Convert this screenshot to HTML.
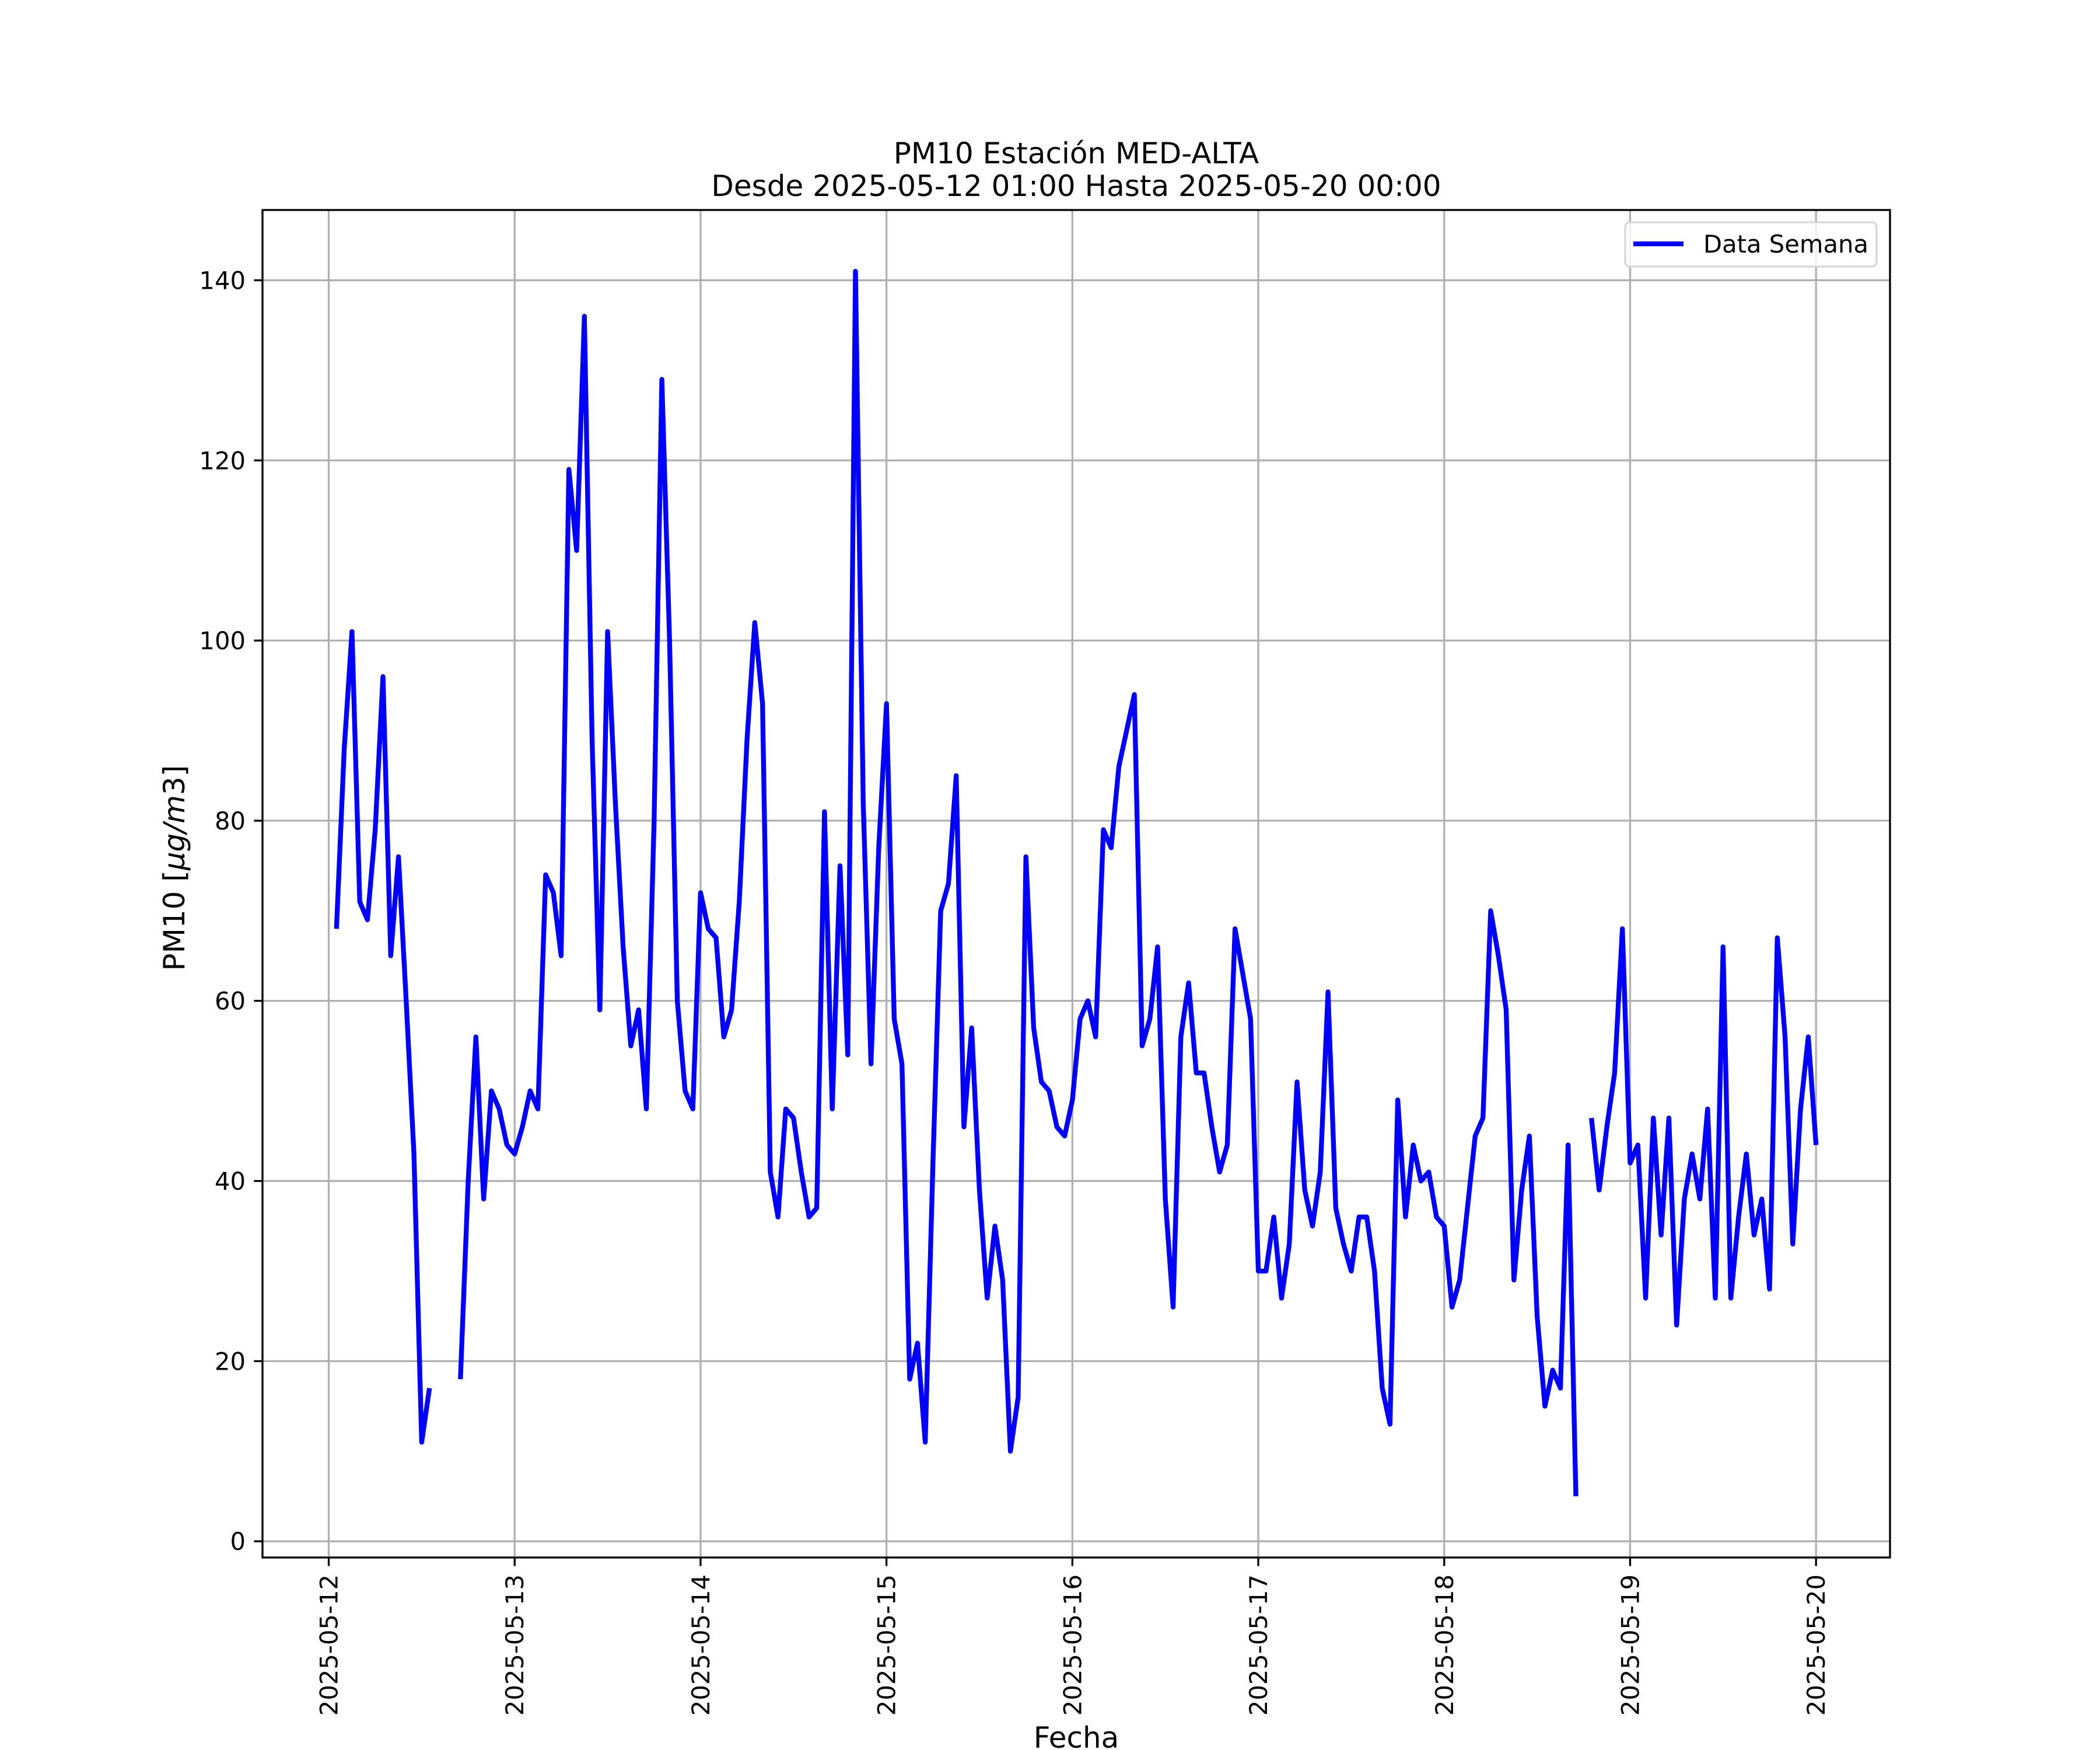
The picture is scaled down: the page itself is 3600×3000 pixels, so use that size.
<!DOCTYPE html>
<html><head><meta charset="utf-8"><style>
html,body{margin:0;padding:0;background:#fff;}
svg{display:block;font-family:"DejaVu Sans","Liberation Sans",sans-serif;}
</style></head><body>
<svg id="chart" width="3600" height="3000" viewBox="0 0 3600 3000" xmlns="http://www.w3.org/2000/svg">
<rect x="0" y="0" width="3600" height="3000" fill="#fff"/>
<g id="grid"></g>
<g id="series"></g>
<g id="axes"></g>
<text x="1845" y="280" font-size="50" text-anchor="middle">PM10 Estación MED-ALTA</text>
<text x="1845" y="336" font-size="50" text-anchor="middle">Desde 2025-05-12 01:00 Hasta 2025-05-20 00:00</text>
<text x="1845" y="2996" font-size="50" text-anchor="middle">Fecha</text>
<text transform="translate(316,1488) rotate(-90)" font-size="50" text-anchor="middle">PM10 [<tspan font-style="italic">μg/m</tspan>3]</text>
<g>
<rect x="2786" y="381" width="431" height="76" rx="8" fill="#fff" fill-opacity="0.8" stroke="#d6d6d6" stroke-width="3.3"/>
<line x1="2800" y1="418" x2="2886" y2="418" stroke="#0000ff" stroke-width="8.3"/>
<text x="2920" y="433" font-size="41.7">Data Semana</text>
</g>
</svg>
<script>
// hourly values, hour 1 = 2025-05-12 01:00 ... hour 192 = 2025-05-20 00:00 (null = missing)
const pm10Values = [
68,88,101,71,69,79,96,65,76,60,43,11,17,null,null,null,18,40,56,38,50,48,44,
43,46,50,48,74,72,65,119,110,136,89,59,101,82,66,55,59,48,80,129,100,60,50,48,
72,68,67,56,59,71,89,102,93,41,36,48,47,41,36,37,81,48,75,54,141,82,53,77,
93,58,53,18,22,11,42,70,73,85,46,57,39,27,35,29,10,16,76,57,51,50,46,45,
49,58,60,56,79,77,86,90,94,55,58,66,38,26,56,62,52,52,46,41,44,68,63,58,
30,30,36,27,33,51,39,35,41,61,37,33,30,36,36,30,17,13,49,36,44,40,41,36,
35,26,29,37,45,47,70,65,59,29,39,45,25,15,19,17,44,5,null,47,39,46,52,68,
42,44,27,47,34,47,24,38,43,38,48,27,66,27,36,43,34,38,28,67,56,33,48,56,
44];
const dayTickLabels = ["2025-05-12","2025-05-13","2025-05-14","2025-05-15","2025-05-16","2025-05-17","2025-05-18","2025-05-19","2025-05-20"];
const yTickValues = [0,20,40,60,80,100,120,140];

const NS = "http://www.w3.org/2000/svg";
const AX = {l:450, r:3240, t:360, b:2670};
const xMin = 1 - 0.05*191, xMax = 192 + 0.05*191; // hours from 05-12 00:00
const yMin = 5 - 0.05*136, yMax = 141 + 0.05*136;
function xs(h){return AX.l + (h - xMin)/(xMax - xMin)*(AX.r - AX.l);}
function ys(v){return AX.b - (v - yMin)/(yMax - yMin)*(AX.b - AX.t);}
function mk(tag, attrs, parent){const e=document.createElementNS(NS,tag);for(const k in attrs)e.setAttribute(k,attrs[k]);parent.appendChild(e);return e;}

const grid = document.getElementById('grid');
const axes = document.getElementById('axes');
const series = document.getElementById('series');

dayTickLabels.forEach((lab,i)=>{
  const x = xs(i*24);
  const g = mk('line',{x1:x,y1:AX.t,x2:x,y2:AX.b,stroke:'#b0b0b0','stroke-width':3.3},grid);
  
  
  const t = mk('line',{x1:x,y1:AX.b,x2:x,y2:AX.b+14.6,stroke:'#000','stroke-width':3.3},axes);
  
  
  const tx = mk('text',{transform:`translate(${x+15},${AX.b+29}) rotate(-90)`,'font-size':41.7,'text-anchor':'end'},axes);
  tx.textContent = lab;
  
  
});
yTickValues.forEach(v=>{
  const y = ys(v);
  const g = mk('line',{x1:AX.l,y1:y,x2:AX.r,y2:y,stroke:'#b0b0b0','stroke-width':3.3},grid);
  
  
  const t = mk('line',{x1:AX.l-14.6,y1:y,x2:AX.l,y2:y,stroke:'#000','stroke-width':3.3},axes);
  
  
  const tx = mk('text',{x:AX.l-29,y:y+15,'font-size':41.7,'text-anchor':'end'},axes);
  tx.textContent = String(v);
  
  
});
const frame = mk('rect',{x:AX.l,y:AX.t,width:AX.r-AX.l,height:AX.b-AX.t,fill:'none',stroke:'#000','stroke-width':3.3},axes);



let d = '', pen = false;
pm10Values.forEach((v,i)=>{
  if(v===null){pen=false;return;}
  const x = xs(i+1).toFixed(1), y = ys(v).toFixed(1);
  d += (pen?'L':'M') + x + ' ' + y + ' ';
  pen = true;
});
const line = mk('path',{d:d,fill:'none',stroke:'#0000ff','stroke-width':8.3,'stroke-linejoin':'round','stroke-linecap':'butt'},series);


</script>
</body></html>
